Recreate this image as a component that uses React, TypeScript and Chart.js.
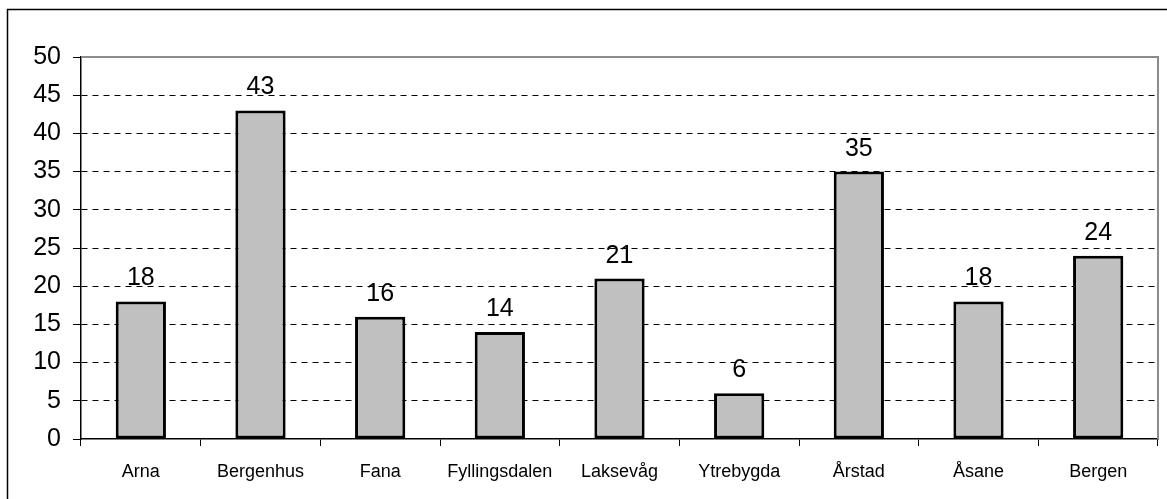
import React, { useEffect, useRef } from "react";
import { Chart, registerables } from "chart.js";

Chart.register(...registerables);

const categories = ["Arna", "Bergenhus", "Fana", "Fyllingsdalen", "Laksevåg", "Ytrebygda", "Årstad", "Åsane", "Bergen"];
const values = [18, 43, 16, 14, 21, 6, 35, 18, 24];
const yTicks = [0, 5, 10, 15, 20, 25, 30, 35, 40, 45, 50];

const FONT = "'Liberation Sans', Arial, Helvetica, sans-serif";

const framePlugin = {
  id: "frame",
  beforeDraw(chart: any) {
    const ctx = chart.ctx;
    ctx.save();
    ctx.fillStyle = "#ffffff";
    ctx.fillRect(0, 0, chart.width, chart.height);
    ctx.strokeStyle = "#000000";
    ctx.lineWidth = 1.5;
    ctx.strokeRect(7.5, 9.5, 3000, 3000);
    ctx.restore();
  },
  afterDatasetsDraw(chart: any) {
    const ctx = chart.ctx;
    const a = chart.chartArea;
    ctx.save();
    ctx.strokeStyle = "#8c8c8c";
    ctx.lineWidth = 2;
    ctx.beginPath();
    ctx.moveTo(a.left, a.top);
    ctx.lineTo(a.right, a.top);
    ctx.lineTo(a.right, a.bottom);
    ctx.stroke();
    // value labels
    ctx.fillStyle = "#000000";
    ctx.font = `25px ${FONT}`;
    ctx.textAlign = "center";
    ctx.textBaseline = "alphabetic";
    const meta = chart.getDatasetMeta(0);
    meta.data.forEach((bar: any, i: number) => {
      ctx.fillText(String(values[i]), bar.x, bar.y - 16);
    });
    ctx.restore();
  },
};

export default function App() {
  const ref = useRef<HTMLCanvasElement>(null);
  useEffect(() => {
    if (!ref.current) return;
    const chart = new Chart(ref.current, {
      type: "bar",
      data: {
        labels: categories,
        datasets: [
          {
            data: values,
            backgroundColor: "#c0c0c0",
            borderColor: "#000000",
            borderWidth: 3,
            borderSkipped: false,
            categoryPercentage: 1,
            barPercentage: 0.42,
          },
        ],
      },
      options: {
        responsive: false,
        animation: false,
        layout: { padding: { top: 57, right: 9, bottom: 0, left: 0 } },
        plugins: { legend: { display: false }, tooltip: { enabled: false } },
        scales: {
          x: {
            offset: true,
            grid: {
              offset: true,
              drawOnChartArea: false,
              drawTicks: true,
              tickLength: 7,
              color: "#000000",
              lineWidth: 1,
            },
            border: { display: true, color: "#000000", width: 1.5 },
            ticks: {
              color: "#000000",
              font: { family: FONT, size: 18 },
              padding: 15,
              maxRotation: 0,
              autoSkip: false,
            },
            afterFit(scale: any) {
              scale.height = 60;
            },
          },
          y: {
            min: 0,
            max: 50,
            afterBuildTicks(scale: any) {
              scale.ticks = yTicks.map((v) => ({ value: v }));
            },
            grid: {
              color: (c: any) =>
                c.tick && (c.tick.value === 0 || c.tick.value === 50) ? "rgba(0,0,0,0)" : "#000000",
              lineWidth: 1,
              tickColor: "#000000",
              tickLength: 8,
              tickBorderDash: [],
            },
            border: { display: true, color: "#000000", width: 1.5, dash: [6, 5] },
            ticks: {
              color: "#000000",
              font: { family: FONT, size: 25 },
              padding: 12,
            },
            afterFit(scale: any) {
              scale.width = 81;
            },
          },
        },
      },
      plugins: [framePlugin],
    } as any);
    return () => chart.destroy();
  }, []);
  return (
    <div style={{ position: "fixed", left: 0, top: 0, width: 1167, height: 499 }}>
      <canvas ref={ref} width={1167} height={499} style={{ display: "block" }} />
    </div>
  );
}
